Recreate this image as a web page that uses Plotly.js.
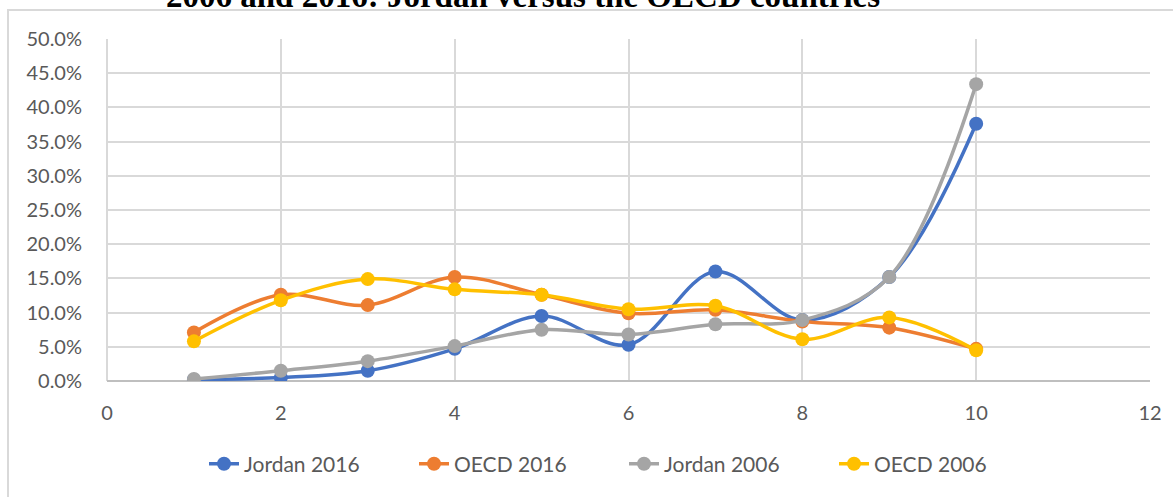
<!DOCTYPE html>
<html>
<head>
<meta charset="utf-8">
<script src="https://cdn.plot.ly/plotly-3.0.1.min.js"></script>
<style>
  html, body { margin: 0; padding: 0; background: #ffffff; overflow: hidden; }
  #chart { width: 1173px; height: 497px; position: absolute; left: 0; top: 0; }
  #frame { position: absolute; left: 7px; top: 9px; width: 1300px; height: 700px;
           border: 2px solid #d9d9d9; pointer-events: none; box-sizing: border-box; }
</style>
</head>
<body>
<div id="chart"></div>
<div id="frame"></div>
<script>
const xValues = [1, 2, 3, 4, 5, 6, 7, 8, 9, 10];
const jordan2016 = [0.002, 0.005, 0.015, 0.047, 0.095, 0.053, 0.160, 0.089, 0.152, 0.376];
const oecd2016   = [0.071, 0.126, 0.111, 0.152, 0.126, 0.099, 0.104, 0.087, 0.078, 0.047];
const jordan2006 = [0.003, 0.015, 0.029, 0.051, 0.075, 0.068, 0.083, 0.089, 0.152, 0.434];
const oecd2006   = [0.058, 0.118, 0.149, 0.134, 0.126, 0.105, 0.110, 0.061, 0.093, 0.045];
const seriesNames = ['Jordan 2016', 'OECD 2016', 'Jordan 2006', 'OECD 2006'];
const titleText = '2006 and 2016: Jordan versus the OECD countries';

const colors = ['#4472C4', '#ED7D31', '#A5A5A5', '#FFC000'];
const allSeries = [jordan2016, oecd2016, jordan2006, oecd2006];

const traces = allSeries.map((ys, i) => ({
  x: xValues,
  y: ys,
  name: seriesNames[i],
  type: 'scatter',
  mode: 'lines+markers',
  line: { color: colors[i], width: 3.5, shape: 'spline', smoothing: 1 },
  marker: { color: colors[i], size: 14 },
  hoverinfo: 'x+y+name'
}));

const tickFont = { family: 'Lato, "Open Sans", sans-serif', size: 20, color: '#595959' };

const layout = {
  width: 1173,
  height: 497,
  margin: { l: 107, r: 23, t: 39, b: 116 },
  paper_bgcolor: '#ffffff',
  plot_bgcolor: '#ffffff',
  showlegend: true,
  xaxis: {
    range: [0, 12],
    dtick: 2,
    tick0: 0,
    showgrid: true,
    gridcolor: '#d9d9d9',
    gridwidth: 2,
    zeroline: true,
    zerolinecolor: '#d9d9d9',
    zerolinewidth: 2,
    showline: false,
    ticks: 'outside',
    ticklen: 14,
    tickcolor: 'rgba(0,0,0,0)',
    tickfont: tickFont,
    fixedrange: true
  },
  yaxis: {
    range: [0, 0.5],
    dtick: 0.05,
    tick0: 0,
    tickformat: '.1%',
    showgrid: true,
    gridcolor: '#d9d9d9',
    gridwidth: 2,
    zeroline: true,
    zerolinecolor: '#bfbfbf',
    zerolinewidth: 2,
    showline: false,
    ticks: 'outside',
    ticklen: 20,
    tickcolor: 'rgba(0,0,0,0)',
    tickfont: tickFont,
    fixedrange: true
  },
  legend: {
    orientation: 'h',
    x: (204 - 107) / 1043,
    xanchor: 'left',
    y: -0.243,
    yanchor: 'middle',
    font: { family: 'Lato, "Open Sans", sans-serif', size: 21, color: '#595959' },
    entrywidth: 165,
    entrywidthmode: 'pixels',
    traceorder: 'normal'
  },
  annotations: [{
    text: '<b>' + titleText + '</b>',
    xref: 'paper', yref: 'paper',
    x: 0.399, xanchor: 'center',
    y: 1.0 + 43 / 342, yanchor: 'middle',
    showarrow: false,
    font: { family: '"Liberation Serif", "Times New Roman", serif', size: 33, color: '#000000' }
  }]
};

Plotly.newPlot('chart', traces, layout, { displayModeBar: false, staticPlot: false });
</script>
</body>
</html>
